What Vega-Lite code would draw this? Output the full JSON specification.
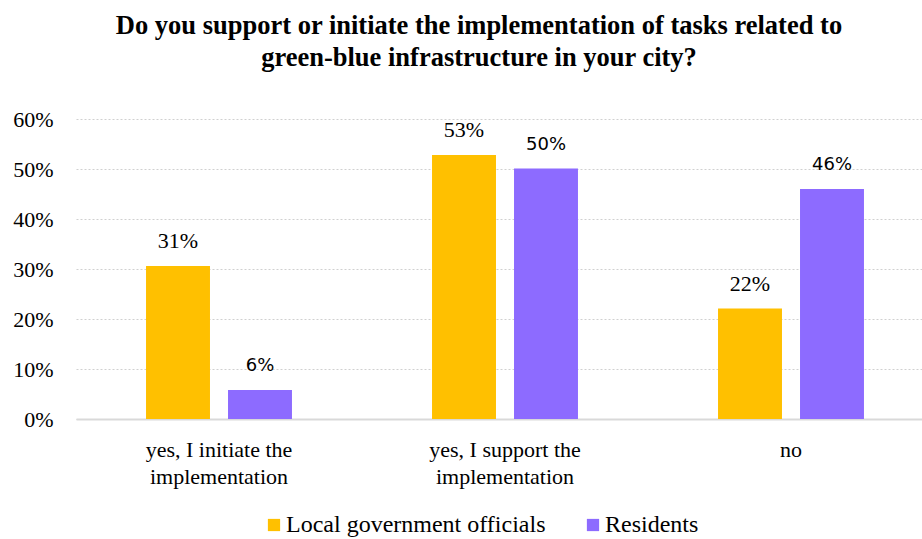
{
  "$schema": "https://vega.github.io/schema/vega-lite/v6.json",
  "autosize": "none",
  "width": 858,
  "height": 300,
  "padding": {"left": 76, "top": 119, "right": 0, "bottom": 120},
  "background": "white",
  "title": {
    "text": ["Do you support or initiate the implementation of tasks related to", "green-blue infrastructure in your city?"],
    "font": "Liberation Serif",
    "fontSize": 26.5,
    "fontWeight": "bold",
    "color": "#000000",
    "lineHeight": 32,
    "anchor": "middle",
    "dx": -26,
    "offset": 37
  },
  "data": {
    "values": [
      {"answer": "yes, I initiate the implementation", "group": "Local government officials", "value": 0.306},
      {"answer": "yes, I initiate the implementation", "group": "Residents", "value": 0.058},
      {"answer": "yes, I support the implementation", "group": "Local government officials", "value": 0.528},
      {"answer": "yes, I support the implementation", "group": "Residents", "value": 0.501},
      {"answer": "no", "group": "Local government officials", "value": 0.221},
      {"answer": "no", "group": "Residents", "value": 0.46}
    ]
  },
  "encoding": {
    "x": {
      "field": "answer",
      "type": "nominal",
      "sort": null,
      "scale": {"paddingInner": 0, "paddingOuter": 0},
      "axis": {
        "title": null,
        "labelAngle": 0,
        "labelFont": "Liberation Serif",
        "labelFontSize": 22,
        "labelColor": "#000000",
        "labelLimit": 400,
        "labelLineHeight": 27,
        "labelPadding": 20,
        "labelExpr": "datum.label == 'no' ? 'no' : [slice(datum.label, 0, indexof(datum.label, ' the') + 4), 'implementation']",
        "ticks": false,
        "domain": true,
        "domainColor": "#d9d9d9",
        "domainWidth": 2,
        "grid": false
      }
    },
    "xOffset": {
      "field": "group",
      "type": "nominal",
      "scale": {"paddingInner": 0.22, "paddingOuter": 0.854}
    },
    "y": {
      "field": "value",
      "type": "quantitative",
      "scale": {"domain": [0, 0.6], "nice": false},
      "axis": {
        "title": null,
        "format": ".0%",
        "values": [0, 0.1, 0.2, 0.3, 0.4, 0.5, 0.6],
        "labelFont": "Liberation Serif",
        "labelFontSize": 22,
        "labelColor": "#000000",
        "labelPadding": 23,
        "ticks": false,
        "domain": false,
        "grid": true,
        "gridColor": "#d0d0d0",
        "gridDash": [2, 2],
        "gridWidth": 1
      }
    }
  },
  "layer": [
    {
      "mark": {"type": "bar"},
      "encoding": {
        "color": {
          "field": "group",
          "type": "nominal",
          "scale": {"domain": ["Local government officials", "Residents"], "range": ["#FFC000", "#8D6BFF"]},
          "legend": {
            "title": null,
            "orient": "none",
            "legendX": 186,
            "legendY": 394,
            "direction": "horizontal",
            "symbolType": "square",
            "symbolSize": 150,
            "symbolStrokeWidth": 0,
            "labelFont": "Liberation Serif",
            "labelFontSize": 24,
            "labelColor": "#000000",
            "labelOffset": 0,
            "columnPadding": 35,
            "labelLimit": 400
          }
        }
      }
    },
    {
      "transform": [{"filter": "datum.group == 'Local government officials'"}],
      "mark": {"type": "text", "baseline": "bottom", "dy": -13, "font": "Liberation Serif", "fontSize": 22, "color": "#000000"},
      "encoding": {"text": {"field": "value", "type": "quantitative", "format": ".0%"}}
    },
    {
      "transform": [{"filter": "datum.group == 'Residents'"}],
      "mark": {"type": "text", "baseline": "bottom", "dy": -15, "font": "DejaVu Sans", "fontSize": 18, "color": "#000000"},
      "encoding": {"text": {"field": "value", "type": "quantitative", "format": ".0%"}}
    }
  ],
  "config": {"view": {"stroke": null}}
}
